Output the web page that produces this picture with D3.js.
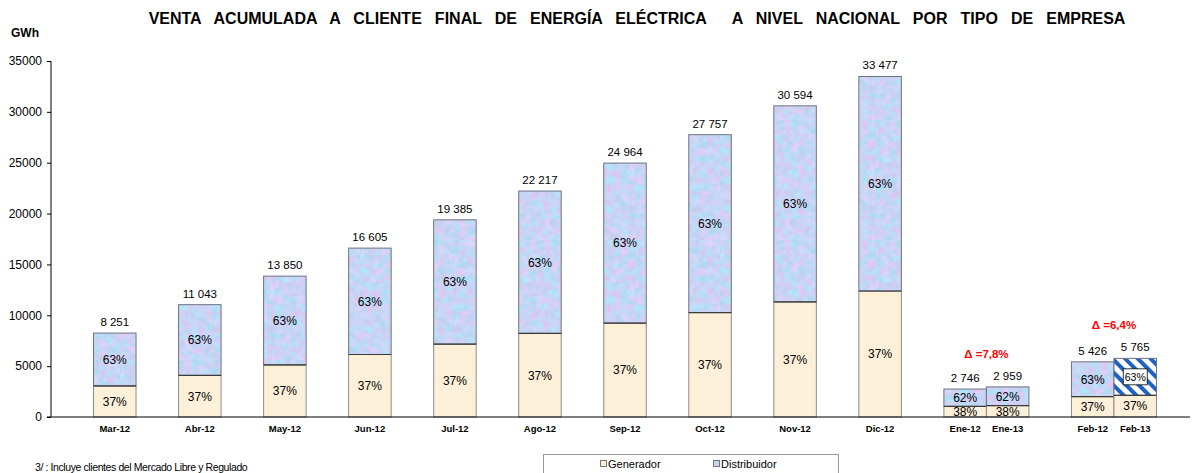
<!DOCTYPE html>
<html>
<head>
<meta charset="utf-8">
<script src="https://cdn.jsdelivr.net/npm/d3@7"></script>
<style>
  body { margin: 0; background: #fff; font-family: Arial, "Liberation Sans", sans-serif; }
  text { font-family: Arial, "Liberation Sans", sans-serif; }
</style>
</head>
<body>
<div id="container"></div>
<script>
// data
const groups = [["Mar-12"], ["Abr-12"], ["May-12"], ["Jun-12"], ["Jul-12"], ["Ago-12"],
  ["Sep-12"], ["Oct-12"], ["Nov-12"], ["Dic-12"], ["Ene-12", "Ene-13"], ["Feb-12", "Feb-13"]];
const categories = ["Mar-12", "Abr-12", "May-12", "Jun-12", "Jul-12", "Ago-12", "Sep-12",
  "Oct-12", "Nov-12", "Dic-12", "Ene-12", "Ene-13", "Feb-12", "Feb-13"];
const totals = [8251, 11043, 13850, 16605, 19385, 22217, 24964, 27757, 30594, 33477, 2746, 2959, 5426, 5765];
const generador = [3053, 4086, 5125, 6144, 7172, 8220, 9237, 10270, 11320, 12386, 1044, 1124, 2008, 2133];
const distribuidor = [5198, 6957, 8725, 10461, 12213, 13997, 15727, 17487, 19274, 21091, 1702, 1835, 3418, 3632];
const genPct = ["37%", "37%", "37%", "37%", "37%", "37%", "37%", "37%", "37%", "37%", "38%", "38%", "37%", "37%"];
const distPct = ["63%", "63%", "63%", "63%", "63%", "63%", "63%", "63%", "63%", "63%", "62%", "62%", "63%", "63%"];
const yTicks = [0, 5000, 10000, 15000, 20000, 25000, 30000, 35000];
const deltas = [{pair: ["Ene-12", "Ene-13"], text: "Δ =7,8%"}, {pair: ["Feb-12", "Feb-13"], text: "Δ =6,4%"}];
const highlighted = "Feb-13";

const w = 1197, h = 473;
const margin = {top: 61, left: 51, bottom: 56, right: 0};
const graphHeight = h - margin.top - margin.bottom;

const svg = d3.select("#container").append("svg").attr("width", w).attr("height", h);
const defs = svg.append("defs");

// mottled blue texture
const f = defs.append("filter").attr("id", "mottle").attr("x", 0).attr("y", 0).attr("width", 1).attr("height", 1)
  .attr("color-interpolation-filters", "sRGB");
f.append("feTurbulence").attr("type", "fractalNoise").attr("baseFrequency", 0.14).attr("numOctaves", 3).attr("seed", 4).attr("result", "n");
f.append("feColorMatrix").attr("in", "n").attr("type", "matrix")
  .attr("values", "0.4 0 0 0 0.58  -0.15 0.12 0 0 0.85  0 0.08 0 0 0.92  0 0 0 0 1");

const pat = defs.append("pattern").attr("id", "blueTex").attr("patternUnits", "userSpaceOnUse")
  .attr("width", 120).attr("height", 120);
pat.append("rect").attr("width", 120).attr("height", 120).attr("fill", "#c7d3f3").attr("filter", "url(#mottle)");

const stripes = defs.append("pattern").attr("id", "stripes").attr("patternUnits", "userSpaceOnUse")
  .attr("width", 9).attr("height", 9).attr("patternTransform", "rotate(-45)");
stripes.append("rect").attr("width", 9).attr("height", 9).attr("fill", "#fff");
stripes.append("rect").attr("width", 4).attr("height", 9).attr("fill", "#1f62c4");

// slots: a spacer before each group, one slot per bar
const slots = [];
groups.forEach((g, i) => { slots.push("_s" + i); g.forEach(c => slots.push(c)); });
slots.push("_end");

const xScale = d3.scaleBand().domain(slots).range([margin.left, margin.left + 1148]).padding(0);
const yScale = d3.scaleLinear().domain([0, 35000]).range([margin.top + graphHeight, margin.top]);

const dataset = categories.map((c, i) => ({
  cat: c, total: totals[i], gen: generador[i], dist: distribuidor[i], gp: genPct[i], dp: distPct[i]
}));

// title
svg.append("text")
  .attr("x", 637).attr("y", 24)
  .attr("text-anchor", "middle")
  .style("font-size", "16px").style("font-weight", "bold").style("word-spacing", "8.6px")
  .style("white-space", "pre")
  .text("VENTA ACUMULADA A CLIENTE FINAL DE ENERGÍA ELÉCTRICA  A NIVEL NACIONAL POR TIPO DE EMPRESA");

svg.append("text").attr("x", 11).attr("y", 37)
  .style("font-size", "12px").style("font-weight", "bold").text("GWh");

// y axis
const yAxis = d3.axisLeft(yScale).tickValues(yTicks).tickSize(4).tickPadding(5).tickFormat(d3.format("d"));
const yAxisGroup = svg.append("g").attr("transform", `translate(${margin.left},0)`).call(yAxis);
yAxisGroup.select(".domain").remove();
yAxisGroup.selectAll("text").style("font-size", "12px").attr("fill", "#000");
svg.append("line").attr("x1", margin.left).attr("x2", margin.left)
  .attr("y1", yScale(35000)).attr("y2", yScale(0)).attr("stroke", "#000");

// bars
const bars = svg.selectAll(".bar").data(dataset).enter().append("g").attr("class", "bar");

bars.append("rect")
  .attr("x", d => xScale(d.cat)).attr("width", xScale.bandwidth())
  .attr("y", d => yScale(d.gen)).attr("height", d => yScale(0) - yScale(d.gen))
  .attr("fill", "#fdf0d8").attr("stroke", "#8c8c8c").attr("stroke-width", 1);

bars.append("rect")
  .attr("x", d => xScale(d.cat)).attr("width", xScale.bandwidth())
  .attr("y", d => yScale(d.gen + d.dist)).attr("height", d => yScale(d.gen) - yScale(d.gen + d.dist))
  .attr("fill", d => d.cat === highlighted ? "url(#stripes)" : "url(#blueTex)")
  .attr("stroke", "#6f7280").attr("stroke-width", 1);

bars.append("line")
  .attr("x1", d => xScale(d.cat)).attr("x2", d => xScale(d.cat) + xScale.bandwidth())
  .attr("y1", d => yScale(d.gen)).attr("y2", d => yScale(d.gen))
  .attr("stroke", "#3c3c3c").attr("stroke-width", 1.2);

// white box behind highlighted label
bars.filter(d => d.cat === highlighted).append("rect")
  .attr("x", d => xScale(d.cat) + xScale.bandwidth() / 2 - 12)
  .attr("y", d => yScale(d.gen + d.dist / 2) - 8)
  .attr("width", 24).attr("height", 16)
  .attr("fill", "#fff").attr("stroke", "#000").attr("stroke-width", 0.8);

bars.append("text")
  .attr("x", d => xScale(d.cat) + xScale.bandwidth() / 2)
  .attr("y", d => yScale(d.gen / 2)).attr("dy", "0.36em")
  .attr("text-anchor", "middle").style("font-size", "12px")
  .text(d => d.gp);

bars.append("text")
  .attr("x", d => xScale(d.cat) + xScale.bandwidth() / 2)
  .attr("y", d => yScale(d.gen + d.dist / 2)).attr("dy", "0.36em")
  .attr("text-anchor", "middle")
  .style("font-size", d => d.cat === highlighted ? "10.5px" : "12px")
  .text(d => d.dp);

const fmt = d3.formatLocale({thousands: " ", grouping: [3], decimal: ","}).format(",d");
bars.append("text")
  .attr("x", d => xScale(d.cat) + xScale.bandwidth() / 2)
  .attr("y", d => yScale(d.total) - 7)
  .attr("text-anchor", "middle").style("font-size", "11.5px")
  .text(d => fmt(d.total));

// x axis
svg.append("line").attr("x1", margin.left - 4).attr("x2", 1190)
  .attr("y1", yScale(0)).attr("y2", yScale(0)).attr("stroke", "#000").attr("stroke-width", 1.2);

svg.selectAll(".xlab").data(categories).enter().append("text")
  .attr("class", "xlab")
  .attr("x", d => xScale(d) + xScale.bandwidth() / 2)
  .attr("y", 432)
  .attr("text-anchor", "middle")
  .style("font-size", "9.5px").style("font-weight", "bold")
  .text(d => d);

// variation annotations
deltas.forEach(dl => {
  const top = d3.max(dl.pair, c => totals[categories.indexOf(c)]);
  svg.append("text")
    .attr("x", xScale(dl.pair[1]))
    .attr("y", yScale(top) - 29)
    .attr("text-anchor", "middle")
    .style("font-size", "11.5px").style("font-weight", "bold").attr("fill", "#ff0000")
    .text(dl.text);
});

// legend
const legend = svg.append("g").attr("id", "legend");
legend.append("rect").attr("x", 543.5).attr("y", 454.5).attr("width", 295).attr("height", 30)
  .attr("fill", "#fff").attr("stroke", "#999");
legend.append("rect").attr("x", 600.5).attr("y", 460.5).attr("width", 6).attr("height", 6)
  .attr("fill", "#fdf0d8").attr("stroke", "#777");
legend.append("text").attr("x", 608).attr("y", 467.5).style("font-size", "11px").text("Generador");
legend.append("rect").attr("x", 713.5).attr("y", 460.5).attr("width", 6).attr("height", 6)
  .attr("fill", "#c7d3f3").attr("stroke", "#777");
legend.append("text").attr("x", 721).attr("y", 467.5).style("font-size", "11px").text("Distribuidor");

svg.append("text").attr("x", 35).attr("y", 471)
  .style("font-size", "10.5px").style("letter-spacing", "-0.4px")
  .text("3/ : Incluye clientes del Mercado Libre y Regulado");
</script>
</body>
</html>
